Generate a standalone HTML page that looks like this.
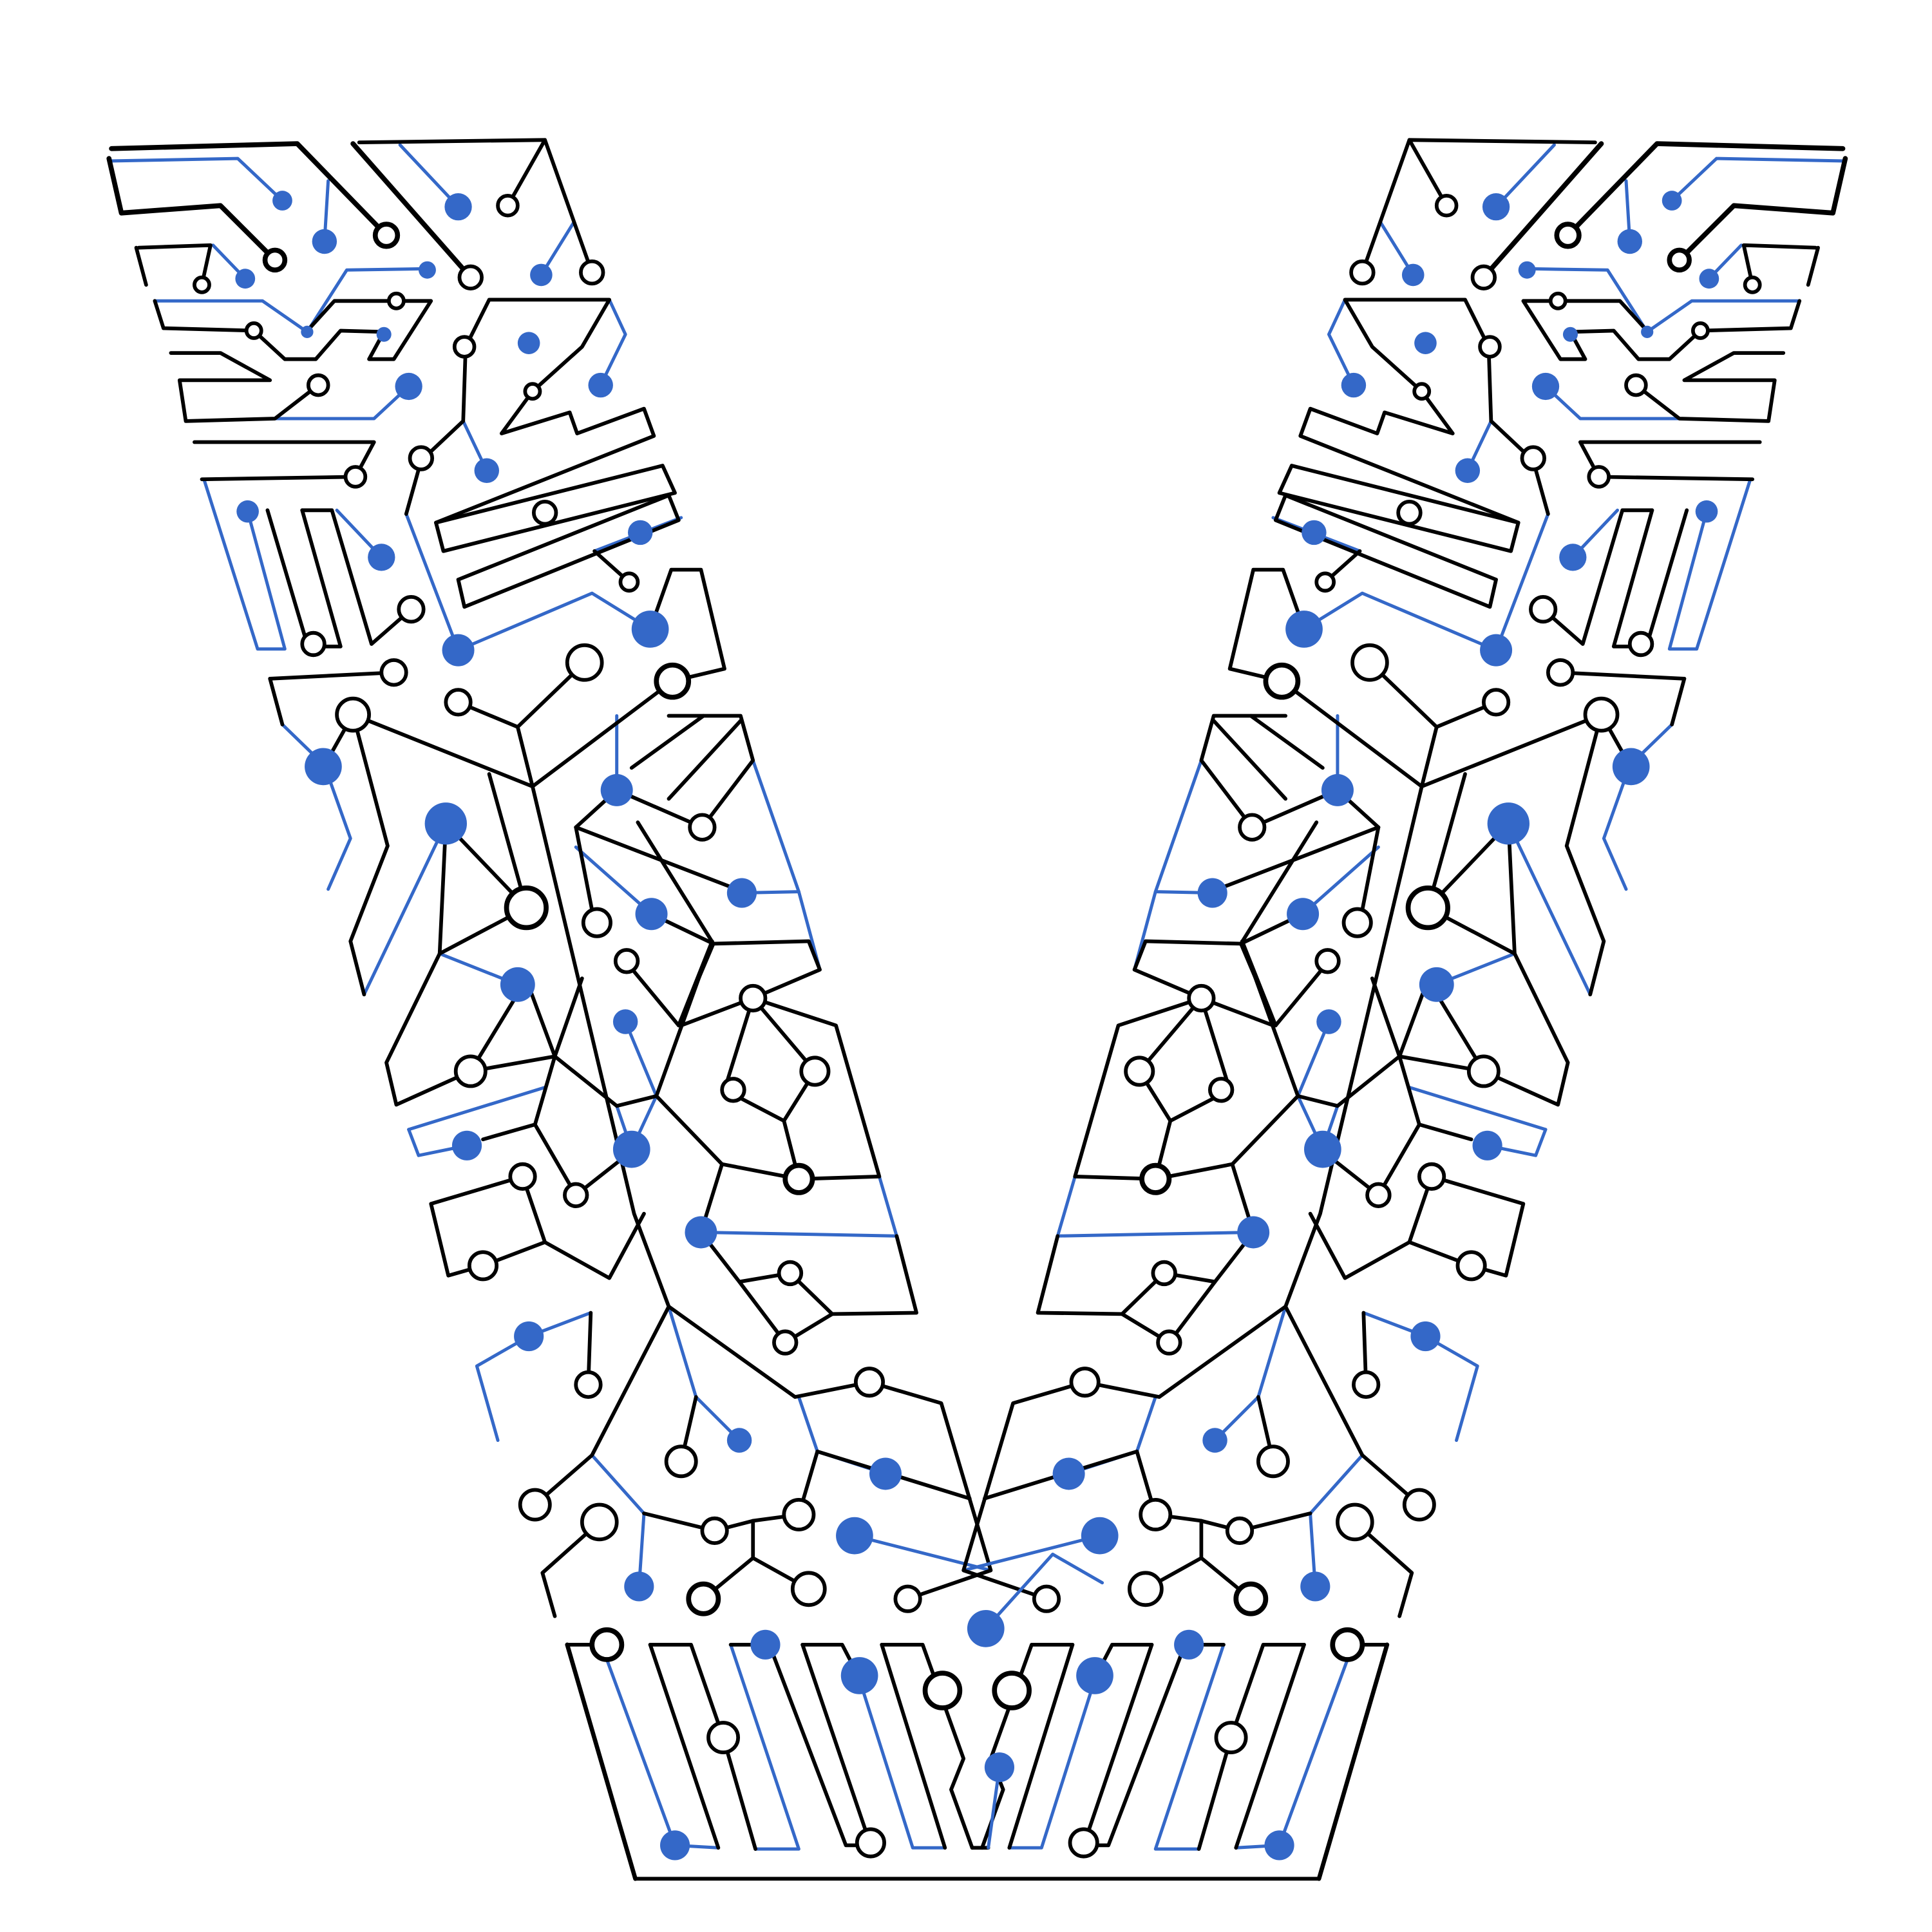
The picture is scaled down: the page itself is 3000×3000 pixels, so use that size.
<!DOCTYPE html>
<html><head><meta charset="utf-8"><style>
html,body{margin:0;padding:0;background:#fff}
svg{display:block}
.k{fill:none;stroke:#000;stroke-width:3;stroke-linejoin:round;stroke-linecap:round}
.b{fill:none;stroke:#3468c8;stroke-width:2.6;stroke-linejoin:round;stroke-linecap:round}
</style></head><body>
<svg width="3000" height="3000" viewBox="0 0 1560 1560" xmlns="http://www.w3.org/2000/svg">
<rect width="1560" height="1560" fill="#fff"/>
<g id="half">
<g class="b">
<polyline points="88,130 192,128 228,162"/><polyline points="265,146 262,195"/><polyline points="323,117 370,167"/><polyline points="463,180 437,222"/>
<polyline points="172,198 198,225"/><polyline points="125,243 212,243 248,268 280,218 345,217"/><polyline points="222,338 302,338 330,312"/>
<polyline points="165,388 208,524 230,524 200,413"/><polyline points="272,412 308,450"/><polyline points="228,585 262,618 283,677 265,718"/>
<polyline points="294,803 360,665"/><polyline points="328,415 370,525 478,479 525,508"/><polyline points="492,242 505,270 485,311"/>
<polyline points="374,340 393,380"/><polyline points="480,445 550,418"/><polyline points="355,770 418,795"/><polyline points="498,893 510,928 530,885"/>
<polyline points="505,825 530,885"/><polyline points="330,912 440,878"/><polyline points="330,912 338,933 377,925"/>
<polyline points="477,1060 427,1079 385,1103 402,1163"/><polyline points="540,1055 562,1128 597,1163"/><polyline points="478,1175 520,1222 516,1281"/>
<polyline points="645,1128 660,1172 715,1190"/><polyline points="690,1240 800,1268"/><polyline points="465,684 526,738"/><polyline points="498,638 498,578"/>
<polyline points="566,995 724,998 710,950"/><polyline points="608,614 645,720 599,721"/><polyline points="645,720 662,783"/>
<polyline points="490,1340 545,1490 580,1492"/><polyline points="590,1328 645,1493 610,1493"/><polyline points="693,1353 737,1492 763,1492"/>
</g>
<g class="k">
<polyline points="88,128 98,172 178,166 222,210" stroke-width="4"/><polyline points="90,120 240,116 312,190" stroke-width="4"/>
<polyline points="285,116 380,224" stroke-width="4"/><polyline points="290,115 440,113 478,220"/><polyline points="440,113 410,166"/>
<polyline points="110,200 118,230"/><polyline points="112,200 170,198 163,230"/>
<polyline points="125,243 132,265 205,267 230,290 255,290 275,267 310,268 298,290 318,290 348,243 270,243 250,265"/>
<polyline points="138,285 178,285 218,307 145,307 150,340 222,338 257,311"/><polyline points="157,357 302,357 287,385 163,387"/>
<polyline points="216,412 248,520"/><polyline points="244,412 268,412 300,520 332,492"/><polyline points="244,412 275,522 262,522"/>
<polyline points="218,548 318,543"/><polyline points="218,548 228,585"/><polyline points="285,577 262,618"/>
<polyline points="285,577 313,683 283,760 294,803"/><polyline points="285,577 430,635 418,587 472,535"/>
<polyline points="430,635 543,550 585,540 566,460 542,460 525,508"/><polyline points="370,567 418,587"/>
<polyline points="328,415 340,372 374,340 376,280 395,242 492,242 470,280 430,316 405,350 460,333 466,350 520,330 528,352 352,422"/>
<polygon points="352,422 535,376 545,398 358,445"/><polygon points="370,468 540,400 548,420 375,490"/><polyline points="480,445 508,470"/>
<polyline points="430,635 512,980 540,1055 478,1175 432,1215"/><polyline points="395,625 425,733 360,665"/>
<polyline points="360,665 355,770 425,733"/><polyline points="355,770 312,858 320,892 380,865 448,853 425,791 380,865"/>
<polyline points="448,853 470,790"/><polyline points="448,853 498,893 530,885 575,760 548,828 505,776"/>
<polyline points="448,853 432,908 390,920"/><polyline points="432,908 465,965 512,928"/>
<polyline points="348,972 422,950 440,1003 390,1022 362,1030 348,972"/><polyline points="440,1003 492,1032 520,980"/><polyline points="477,1060 475,1118"/>
<polyline points="540,1055 642,1128 702,1116 760,1133 800,1268 733,1291"/><polyline points="562,1128 550,1180"/>
<polyline points="520,1222 577,1236 608,1228 645,1223 660,1172"/><polyline points="660,1172 783,1210"/>
<polyline points="608,1228 608,1258 568,1291"/><polyline points="608,1258 653,1283"/><polyline points="484,1229 438,1270 448,1305"/>
<polyline points="465,668 600,720"/><polyline points="465,668 480,745"/><polyline points="465,668 498,638 567,668"/>
<polyline points="515,664 576,762 548,828"/><polyline points="526,738 576,762 653,760 662,783 608,806 550,828"/>
<polyline points="608,806 675,828 710,950 645,952 583,940 530,885"/><polyline points="608,806 585,880 633,905 645,952"/>
<polyline points="608,806 658,865 633,905"/><polyline points="583,940 566,995"/>
<polyline points="566,995 597,1035 638,1028 672,1061 740,1060 724,998"/><polyline points="597,1035 634,1084 672,1061"/>
<polyline points="540,578 598,578 608,614 567,668"/><polyline points="510,620 568,578"/><polyline points="540,645 598,582"/>
<polyline points="458,1328 513,1517" stroke-width="3.5"/><polyline points="458,1328 490,1328"/>
<polyline points="525,1328 580,1492"/><polyline points="525,1328 558,1328 584,1403 610,1493"/>
<polyline points="590,1328 620,1328"/><polyline points="622,1330 683,1490 703,1490"/>
<polyline points="648,1328 680,1328 693,1353"/><polyline points="648,1328 703,1490"/>
<polyline points="712,1328 745,1328 778,1420 768,1445 785,1492"/><polyline points="712,1328 763,1492"/>
</g>
<g fill="#fff" stroke="#000" stroke-width="3">
<circle cx="222" cy="210" r="8" stroke-width="4"/><circle cx="312" cy="190" r="9" stroke-width="4"/><circle cx="380" cy="224" r="9"/><circle cx="410" cy="166" r="8"/>
<circle cx="478" cy="220" r="9"/><circle cx="163" cy="230" r="6"/><circle cx="205" cy="267" r="6"/><circle cx="320" cy="243" r="6"/>
<circle cx="257" cy="311" r="8"/><circle cx="287" cy="385" r="8"/><circle cx="375" cy="280" r="8"/><circle cx="430" cy="316" r="6"/>
<circle cx="340" cy="370" r="9"/><circle cx="440" cy="414" r="9"/><circle cx="508" cy="470" r="7"/><circle cx="332" cy="492" r="10"/>
<circle cx="253" cy="520" r="9"/><circle cx="318" cy="543" r="10"/><circle cx="285" cy="577" r="13"/><circle cx="370" cy="567" r="10"/>
<circle cx="472" cy="535" r="14"/><circle cx="543" cy="550" r="13" stroke-width="4"/><circle cx="567" cy="668" r="10"/><circle cx="425" cy="733" r="16" stroke-width="4"/>
<circle cx="482" cy="745" r="11"/><circle cx="506" cy="776" r="9"/><circle cx="608" cy="806" r="10"/><circle cx="380" cy="865" r="12"/>
<circle cx="658" cy="865" r="11"/><circle cx="592" cy="880" r="9"/><circle cx="645" cy="952" r="11" stroke-width="4"/><circle cx="422" cy="950" r="10"/>
<circle cx="465" cy="965" r="9"/><circle cx="390" cy="1022" r="11"/><circle cx="638" cy="1028" r="9"/><circle cx="634" cy="1084" r="9"/>
<circle cx="475" cy="1118" r="10"/><circle cx="702" cy="1116" r="11"/><circle cx="550" cy="1180" r="12"/><circle cx="432" cy="1215" r="12"/>
<circle cx="484" cy="1229" r="14"/><circle cx="577" cy="1236" r="10"/><circle cx="645" cy="1223" r="12"/><circle cx="568" cy="1291" r="12" stroke-width="4"/>
<circle cx="653" cy="1283" r="13"/><circle cx="733" cy="1291" r="10"/><circle cx="490" cy="1328" r="12" stroke-width="4"/><circle cx="584" cy="1403" r="12"/>
<circle cx="703" cy="1488" r="11"/><circle cx="761" cy="1365" r="14" stroke-width="4"/>
</g>
<g fill="#3468c8">
<circle cx="228" cy="162" r="8"/><circle cx="262" cy="195" r="10"/><circle cx="370" cy="167" r="11"/><circle cx="437" cy="222" r="9"/>
<circle cx="198" cy="225" r="8"/><circle cx="248" cy="268" r="5"/><circle cx="310" cy="270" r="6"/><circle cx="345" cy="218" r="7"/>
<circle cx="330" cy="312" r="11"/><circle cx="427" cy="277" r="9"/><circle cx="485" cy="311" r="10"/><circle cx="393" cy="380" r="10"/>
<circle cx="200" cy="413" r="9"/><circle cx="308" cy="450" r="11"/><circle cx="517" cy="430" r="10"/><circle cx="525" cy="508" r="15"/>
<circle cx="370" cy="525" r="13"/><circle cx="261" cy="619" r="15"/><circle cx="360" cy="665" r="17"/><circle cx="498" cy="638" r="13"/>
<circle cx="599" cy="721" r="12"/><circle cx="526" cy="738" r="13"/><circle cx="418" cy="795" r="14"/><circle cx="505" cy="825" r="10"/>
<circle cx="510" cy="928" r="15"/><circle cx="377" cy="925" r="12"/><circle cx="566" cy="995" r="13"/><circle cx="427" cy="1079" r="12"/>
<circle cx="597" cy="1163" r="10"/><circle cx="715" cy="1190" r="13"/><circle cx="690" cy="1240" r="15"/><circle cx="516" cy="1281" r="12"/>
<circle cx="618" cy="1328" r="12"/><circle cx="694" cy="1353" r="15"/><circle cx="545" cy="1490" r="12"/>
</g>
</g>
<use href="#half" transform="translate(1578,0) scale(-1,1)"/>
<g>
<polyline class="k" points="513,1517 1065,1517" stroke-width="3.5"/>
<polyline class="k" points="785,1492 798,1492"/>
<polyline class="b" points="798,1492 807,1427"/>
<polyline class="b" points="796,1315 850,1255 890,1278"/>
<circle cx="807" cy="1427" r="12" fill="#3468c8"/>
<circle cx="796" cy="1315" r="15" fill="#3468c8"/>
</g>
</svg>
</body></html>
